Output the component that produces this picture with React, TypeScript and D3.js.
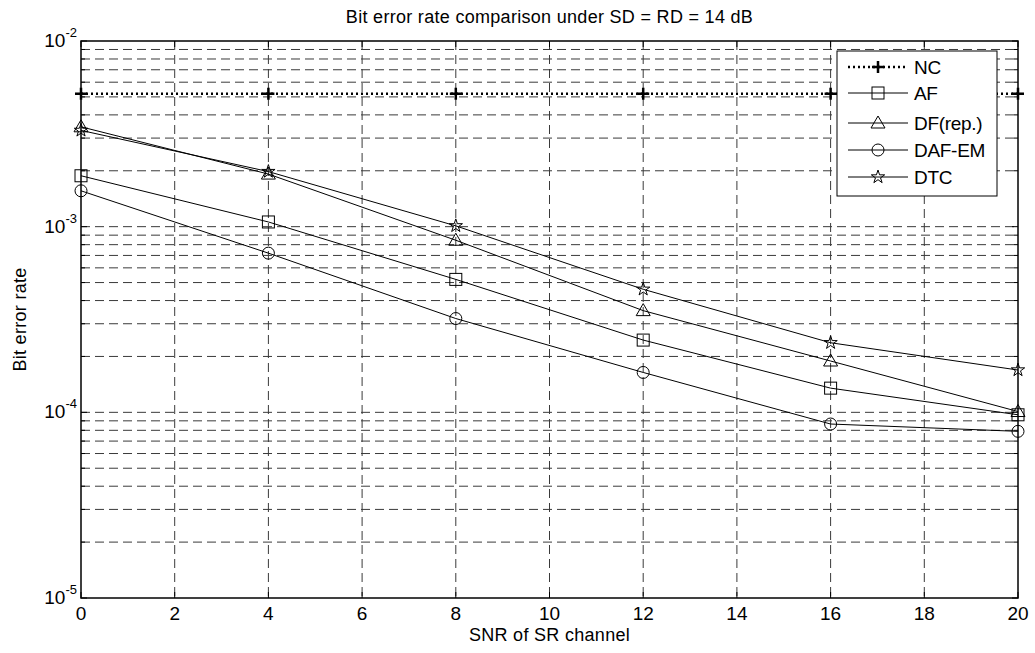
import React from "react";
import * as d3 from "d3";

const snr = [0, 4, 8, 12, 16, 20];
const ncBER = [5.2e-3, 5.2e-3, 5.2e-3, 5.2e-3, 5.2e-3, 5.2e-3];
const afBER = [1.88e-3, 1.06e-3, 5.2e-4, 2.45e-4, 1.35e-4, 9.7e-5];
const dfBER = [3.45e-3, 1.92e-3, 8.45e-4, 3.53e-4, 1.89e-4, 1.01e-4];
const dafBER = [1.56e-3, 7.2e-4, 3.2e-4, 1.64e-4, 8.65e-5, 7.9e-5];
const dtcBER = [3.3e-3, 1.98e-3, 1.01e-3, 4.6e-4, 2.37e-4, 1.69e-4];

const seriesNames = ["NC", "AF", "DF(rep.)", "DAF-EM", "DTC"];
const markerKinds = ["plus", "square", "triangle", "circle", "star"];
const seriesData = [ncBER, afBER, dfBER, dafBER, dtcBER];

const xTicks = [0, 2, 4, 6, 8, 10, 12, 14, 16, 18, 20];
const yDecades = [-5, -4, -3, -2];

const W = 1035, H = 653;
const M = { left: 81, right: 1018, top: 41, bottom: 598 };
const FONT = "'Liberation Sans', Arial, sans-serif";

function Marker({ kind, x, y }: { kind: string; x: number; y: number }) {
  const s = { fill: "none", stroke: "#000", strokeWidth: 1 };
  if (kind === "plus")
    return (
      <g stroke="#000" strokeWidth={2.5}>
        <line x1={x - 6} x2={x + 6} y1={y} y2={y} />
        <line x1={x} x2={x} y1={y - 6} y2={y + 6} />
      </g>
    );
  if (kind === "square") return <rect x={x - 6} y={y - 6} width={12} height={12} {...s} />;
  if (kind === "circle") return <circle cx={x} cy={y} r={6} {...s} />;
  if (kind === "triangle")
    return <path d={`M${x},${y - 7}L${x + 7},${y + 5}L${x - 7},${y + 5}Z`} {...s} />;
  const star = d3.symbol(d3.symbolStar, 55)();
  return <path d={star || ""} transform={`translate(${x},${y})`} {...s} />;
}

export default function App() {
  const x = d3.scaleLinear().domain([0, 20]).range([M.left, M.right]);
  const y = d3.scaleLog().domain([1e-5, 1e-2]).range([M.bottom, M.top]);
  const line = d3
    .line<number>()
    .x((_, i) => x(snr[i]))
    .y((d) => y(d));

  const minor: number[] = [];
  for (let e = -5; e < -2; e++) for (let m = 2; m <= 9; m++) minor.push(m * Math.pow(10, e));
  const gridY = [...minor, 1e-4, 1e-3];

  const lx = 837, ly = 51, lw = 160, lh = 145;
  const rowY = [67, 93, 123, 150, 177];

  return (
    <svg width={W} height={H} style={{ position: "absolute", left: 0, top: 0, background: "#fff" }} fontFamily={FONT}>
      <rect width={W} height={H} fill="#fff" />
      {/* grid */}
      <g stroke="#3a3a3a" strokeWidth={1} strokeDasharray="9,5">
        {gridY.map((v, i) => (
          <line key={"gy" + i} x1={M.left} x2={M.right} y1={y(v)} y2={y(v)} />
        ))}
        {xTicks.slice(1, -1).map((t) => (
          <line key={"gx" + t} x1={x(t)} x2={x(t)} y1={M.top} y2={M.bottom} />
        ))}
      </g>
      {/* ticks */}
      <g stroke="#000" strokeWidth={1}>
        {xTicks.map((t) => (
          <g key={"tx" + t}>
            <line x1={x(t)} x2={x(t)} y1={M.bottom} y2={M.bottom - 6} />
            <line x1={x(t)} x2={x(t)} y1={M.top} y2={M.top + 6} />
          </g>
        ))}
        {[...gridY, 1e-5, 1e-2].map((v, i) => (
          <g key={"ty" + i}>
            <line x1={M.left} x2={M.left + (minor.includes(v) ? 4 : 6)} y1={y(v)} y2={y(v)} />
            <line x1={M.right} x2={M.right - (minor.includes(v) ? 4 : 6)} y1={y(v)} y2={y(v)} />
          </g>
        ))}
      </g>
      <rect x={M.left} y={M.top} width={M.right - M.left} height={M.bottom - M.top} fill="none" stroke="#000" strokeWidth={1.5} />
      {/* tick labels */}
      {xTicks.map((t) => (
        <text key={"lx" + t} x={x(t)} y={620} textAnchor="middle" fontSize={19}>
          {t}
        </text>
      ))}
      {yDecades.map((e) => (
        <text key={"ly" + e} x={77} y={y(Math.pow(10, e)) + 6} textAnchor="end" fontSize={19}>
          10
          <tspan dy={-10} fontSize={13}>
            {e}
          </tspan>
        </text>
      ))}
      {/* series */}
      {seriesData.map((d, si) => (
        <g key={"s" + si}>
          <path
            d={line(d) || ""}
            fill="none"
            stroke="#000"
            strokeWidth={si === 0 ? 2.5 : 1}
            strokeDasharray={si === 0 ? "2,3" : undefined}
          />
          {d.map((v, i) => (
            <Marker key={i} kind={markerKinds[si]} x={x(snr[i])} y={y(v)} />
          ))}
        </g>
      ))}
      {/* legend */}
      <rect x={lx} y={ly} width={lw} height={lh} fill="#fff" stroke="#000" strokeWidth={1} />
      {seriesNames.map((n, i) => (
        <g key={"lg" + i}>
          <line
            x1={848}
            x2={908}
            y1={rowY[i]}
            y2={rowY[i]}
            stroke="#000"
            strokeWidth={i === 0 ? 2.5 : 1}
            strokeDasharray={i === 0 ? "2,3" : undefined}
          />
          <Marker kind={markerKinds[i]} x={878} y={rowY[i]} />
          <text x={914} y={rowY[i] + 7} fontSize={19} letterSpacing={-0.3}>
            {n}
          </text>
        </g>
      ))}
      {/* titles */}
      <text x={(M.left + M.right) / 2} y={23} textAnchor="middle" fontSize={18} letterSpacing={0.3}>
        Bit error rate comparison under SD = RD = 14 dB
      </text>
      <text x={(M.left + M.right) / 2} y={641} textAnchor="middle" fontSize={18} letterSpacing={0.3}>
        SNR of SR channel
      </text>
      <text transform={`translate(26,${(M.top + M.bottom) / 2}) rotate(-90)`} textAnchor="middle" fontSize={18} letterSpacing={0.3}>
        Bit error rate
      </text>
    </svg>
  );
}
